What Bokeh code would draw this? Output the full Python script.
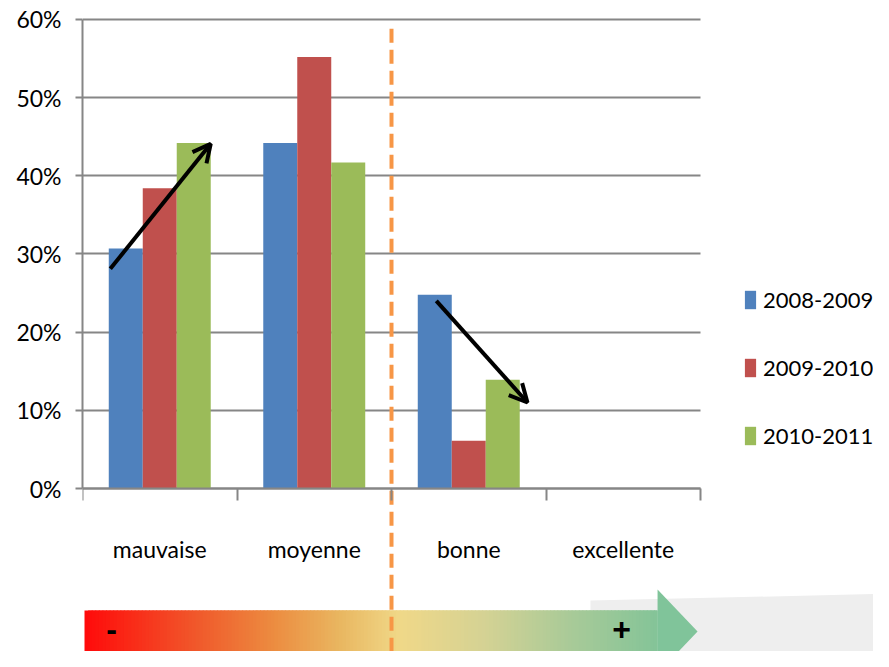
import numpy as np
from bokeh.plotting import figure
from bokeh.models import (Range1d, FixedTicker, LinearAxis, PrintfTickFormatter, Legend,
                          LegendItem, Arrow, OpenHead, Grid)
from bokeh.core.properties import value
from bokeh.embed import file_html
from bokeh.resources import INLINE

# ---------------- data ----------------
categories = ["mauvaise", "moyenne", "bonne", "excellente"]
series = ["2008-2009", "2009-2010", "2010-2011"]
v_2008_2009 = [30.7, 44.2, 24.8, 0.0]
v_2009_2010 = [38.4, 55.2, 6.1, 0.0]
v_2010_2011 = [44.2, 41.7, 13.9, 0.0]
y_ticks = [0, 10, 20, 30, 40, 50, 60]
colors = ["#4F81BD", "#C0504D", "#9BBB59"]

# trend arrows (annotations): x_start, y_start, x_end, y_end in data units
trend_arrows = [(0.18, 28.1, 0.83, 44.1), (2.29, 24.0, 2.88, 11.0)]

# ---------------- layout ----------------
FONT = "Lato"
W, H = 873, 651
BL, BT = 82, 10
PX_CAT = 154.5
PX_PCT = 7.817
frame_w = W - BL
frame_h = H - BT
x_end = frame_w / PX_CAT
y_top = (488 - BT) / PX_PCT
y_bot = y_top - frame_h / PX_PCT

p = figure(width=W, height=H, x_range=Range1d(0, x_end), y_range=Range1d(y_bot, y_top),
           output_backend="svg", toolbar_location=None, x_axis_type=None, y_axis_type=None,
           min_border_left=BL, min_border_right=0, min_border_top=BT, min_border_bottom=0)
p.outline_line_color = None
p.background_fill_color = "white"

GRID_C = "#868686"
ytick = FixedTicker(ticks=y_ticks, minor_ticks=[])
grid = Grid(dimension=1, ticker=ytick, grid_line_color=GRID_C, grid_line_width=2,
            bounds=(0, 60), cross_bounds=(0, len(categories)))
p.add_layout(grid)

# decorative grey panel + gradient arrow at bottom
p.patch([3.288, 5.3, 5.3, 3.288], [-14.33, -13.43, -25, -25], color="#EEEEEE", line_color=None)
stops = [0.0, 0.2, 0.33, 0.45, 0.55, 0.7, 0.85, 1.0]
stop_cols = ["#FF0A0A", "#F05A2C", "#EC8C40", "#E9B862", "#F0D888", "#D4D294", "#A8CA98", "#84C498"]
rgb = np.array([[int(c[i:i + 2], 16) for i in (1, 3, 5)] for c in stop_cols], dtype=float)
n = 160
bx0, bx1 = 0.013, 3.722
t = (np.arange(n) + 0.5) / n
cols = []
for tt in t:
    r = [np.interp(tt, stops, rgb[:, k]) for k in range(3)]
    cols.append("#%02x%02x%02x" % tuple(int(round(v)) for v in r))
edges = np.linspace(bx0, bx1, n + 1)
right = np.minimum(edges[1:] + 0.03, bx1)
p.quad(left=edges[:-1], right=right, top=-15.6, bottom=-20.98, color=cols, line_color=None)
p.patch([3.722, 3.981, 3.722], [-12.92, -18.29, -23.67], color="#80C49A", line_color=None)
p.text(x=[0.188, 3.489], y=[-18.0, -18.0], text=["-", "+"], text_font=value("Liberation Sans"),
       text_font_style="bold", text_font_size="32px", text_align="center", text_baseline="middle",
       text_color="black")

# bars
centers = np.arange(len(categories)) + 0.5
offsets = [-0.22, 0.0, 0.22]
renderers = []
for vals, off, col in zip([v_2008_2009, v_2009_2010, v_2010_2011], offsets, colors):
    r = p.vbar(x=centers + off, top=vals, bottom=0, width=0.22, color=col, line_color=None)
    renderers.append(r)

# dashed separator
p.line([2.0, 2.0], [58.8, y_bot - 1], line_color="#F79646", line_width=4, line_dash="14 7")

# trend arrows
for xs, ys, xe, ye in trend_arrows:
    p.add_layout(Arrow(x_start=xs, y_start=ys, x_end=xe, y_end=ye, line_width=4, line_color="black",
                       end=OpenHead(size=18, line_width=4, line_color="black")))

# axes
yaxis = LinearAxis(ticker=ytick, formatter=PrintfTickFormatter(format="%d%%"), bounds=(0, 60),
                   axis_line_color=GRID_C, axis_line_width=2, major_tick_line_color=GRID_C,
                   major_tick_line_width=2, major_tick_out=7, major_tick_in=0,
                   minor_tick_line_color=None, major_label_text_font=FONT,
                   major_label_text_font_size="23px", major_label_text_color="black",
                   major_label_standoff=14)
p.add_layout(yaxis, "left")

xaxis = LinearAxis(ticker=FixedTicker(ticks=list(centers), minor_ticks=list(range(len(categories) + 1))),
                   major_label_overrides={float(c): lab for c, lab in zip(centers, categories)},
                   fixed_location=0, bounds=(0, len(categories)),
                   axis_line_color=GRID_C, axis_line_width=2,
                   major_tick_line_color=None, major_tick_out=0, major_tick_in=0,
                   minor_tick_line_color=GRID_C, minor_tick_line_width=2, minor_tick_out=12, minor_tick_in=0,
                   major_label_text_font=FONT, major_label_text_font_size="23px",
                   major_label_text_color="black", major_label_standoff=34)
p.add_layout(xaxis, "below")

legend = Legend(items=[LegendItem(label=s, renderers=[r]) for s, r in zip(series, renderers)],
                location=(661, 202), padding=0, margin=0, spacing=41, glyph_width=14, glyph_height=23,
                label_standoff=6, label_text_font=FONT, label_text_font_size="22px",
                label_text_color="black", border_line_color=None, background_fill_alpha=0)
p.add_layout(legend)

open("out.html", "w").write(file_html(p, INLINE))
